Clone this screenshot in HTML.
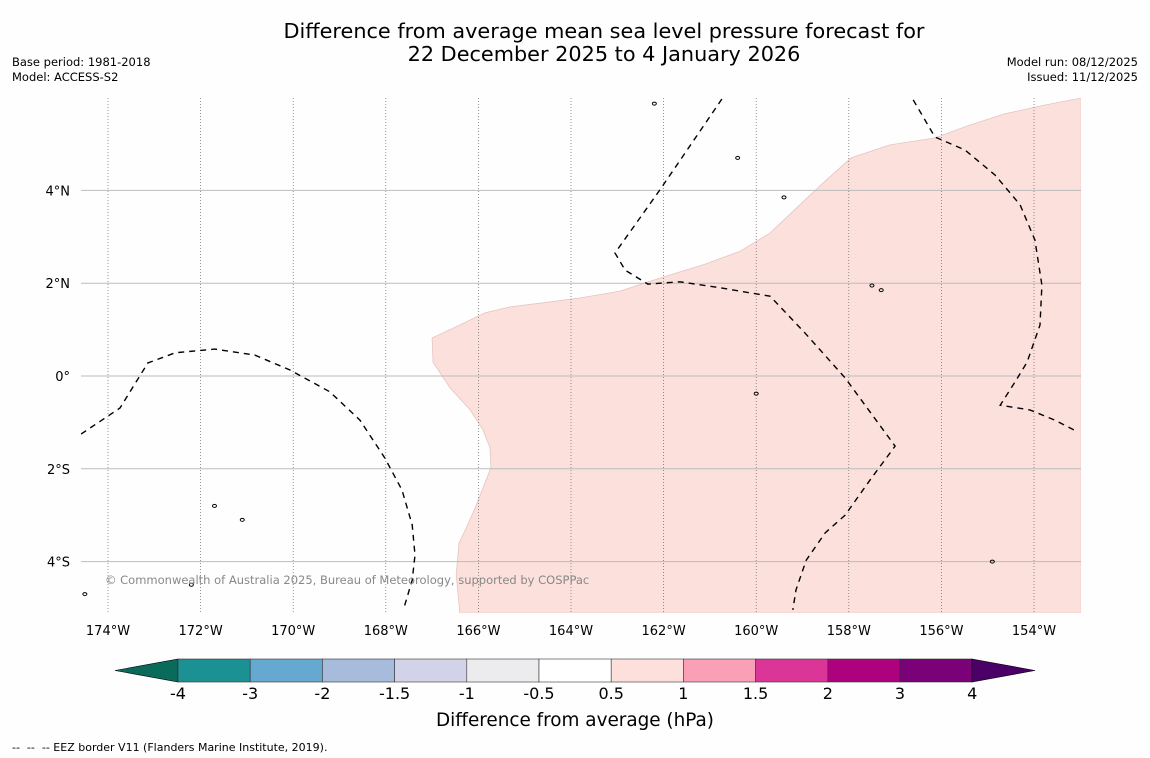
<!DOCTYPE html>
<html><head><meta charset="utf-8"><style>
body{margin:0;background:#fefefe;font-family:"DejaVu Sans","Liberation Sans",sans-serif;}
svg{display:block}
</style></head><body>
<svg width="1150" height="758" xmlns="http://www.w3.org/2000/svg" font-family="DejaVu Sans, Liberation Sans, sans-serif">
<rect width="1150" height="758" fill="#fefefe"/>
<text x="604" y="38" font-size="20.8" text-anchor="middle">Difference from average mean sea level pressure forecast for</text>
<text x="604" y="61" font-size="20.8" text-anchor="middle">22 December 2025 to 4 January 2026</text>
<text x="12" y="66" font-size="11.5">Base period: 1981-2018</text>
<text x="12" y="81" font-size="11.5">Model: ACCESS-S2</text>
<text x="1138" y="66" font-size="11.5" text-anchor="end">Model run: 08/12/2025</text>
<text x="1138" y="81" font-size="11.5" text-anchor="end">Issued: 11/12/2025</text>
<defs><clipPath id="mc"><rect x="81" y="98" width="1000" height="515"/></clipPath></defs>
<g id="map" clip-path="url(#mc)"></g>
<g id="axes"></g>
<text x="105" y="584" font-size="11.5" fill="#888">© Commonwealth of Australia 2025, Bureau of Meteorology, supported by COSPPac</text>
<g id="cbar"></g>
<text x="575" y="726" font-size="18.4" text-anchor="middle">Difference from average (hPa)</text>
<text x="12" y="751" font-size="11" xml:space="preserve">--  --  -- EEZ border V11 (Flanders Marine Institute, 2019).</text>
</svg>
<script>
const lonTicks=[-174,-172,-170,-168,-166,-164,-162,-160,-158,-156,-154];
const latTicks=[4,2,0,-2,-4];
const regionLon=[-152.98,-153.76,-154.63,-155.49,-156.14,-157.11,-157.95,-158.51,-158.95,-159.33,-159.70,-160.35,-161.11,-162.08,-162.94,-163.81,-164.67,-165.32,-165.86,-166.40,-167.00,-166.98,-166.61,-166.18,-165.90,-165.75,-165.73,-165.90,-166.07,-166.25,-166.42,-166.48,-166.40,-152.98];
const regionLat=[5.99,5.84,5.65,5.37,5.13,4.98,4.70,4.20,3.79,3.43,3.08,2.69,2.41,2.11,1.83,1.68,1.57,1.49,1.36,1.10,0.82,0.30,-0.26,-0.73,-1.16,-1.55,-1.98,-2.41,-2.84,-3.25,-3.60,-4.29,-5.11,-5.11];
const eez1Lon=[-174.58,-173.74,-173.14,-172.55,-171.69,-170.83,-170.07,-169.21,-168.56,-168.02,-167.65,-167.43,-167.37,-167.43,-167.61];
const eez1Lat=[-1.25,-0.69,0.28,0.50,0.58,0.45,0.13,-0.34,-0.95,-1.77,-2.46,-3.21,-3.86,-4.40,-5.00];
const eez2Lon=[-160.74,-162.08,-163.05,-162.83,-162.34,-161.65,-160.78,-159.70,-158.95,-158.08,-157.00,-157.54,-158.08,-158.51,-158.92,-159.14,-159.21];
const eez2Lat=[5.97,4.01,2.65,2.28,1.98,2.03,1.90,1.72,0.93,-0.04,-1.51,-2.24,-3.00,-3.38,-3.97,-4.61,-5.04];
const eez3Lon=[-156.61,-156.14,-155.49,-154.84,-154.30,-153.98,-153.83,-153.87,-154.15,-154.41,-154.73,-154.09,-153.55,-153.05];
const eez3Lat=[5.95,5.15,4.87,4.33,3.69,2.93,1.96,1.10,0.30,-0.13,-0.63,-0.73,-0.95,-1.21];
const islandLon=[-162.2,-160.4,-159.4,-157.5,-157.3,-171.7,-171.1,-172.2,-174.5,-160.0,-154.9];
const islandLat=[5.87,4.7,3.85,1.95,1.85,-2.8,-3.1,-4.5,-4.7,-0.38,-4.0];
const cbarBounds=[-4,-3,-2,-1.5,-1,-0.5,0.5,1,1.5,2,3,4];
const cbarColors=["#1b9193","#66a9d0","#a7bcdc","#d2d2e8","#ecebee","#ffffff","#fde0dc","#f99fb6","#dc3598","#ad017e","#7a0177"];
const NS="http://www.w3.org/2000/svg";
const X=lon=>108+(lon+174)*46.3, Y=lat=>376-lat*46.4;
function mk(t,a,p){const e=document.createElementNS(NS,t);for(const k in a)e.setAttribute(k,a[k]);p.appendChild(e);return e;}
const map=document.getElementById('map'),axes=document.getElementById('axes');
const pts=(lo,la)=>lo.map((v,i)=>X(v).toFixed(1)+','+Y(la[i]).toFixed(1)).join(' ');
let reg=mk('polygon',{points:pts(regionLon,regionLat),fill:'#fbe0dc',stroke:'#e6c4c0','stroke-width':0.8},map);


latTicks.forEach(v=>{let l=mk('line',{x1:81,x2:1081,y1:Y(v),y2:Y(v),stroke:'#bbb','stroke-width':1},map);


let t=mk('text',{x:70,y:Y(v)+5,'font-size':13,'text-anchor':'end'},axes);t.textContent=v==0?'0°':Math.abs(v)+'°'+(v>0?'N':'S');

});
lonTicks.forEach(v=>{let l=mk('line',{x1:X(v),x2:X(v),y1:98,y2:613,stroke:'#666','stroke-width':0.7,'stroke-dasharray':'1,2'},map);


let t=mk('text',{x:X(v),y:635,'font-size':13,'text-anchor':'middle'},axes);t.textContent=Math.abs(v)+'°W';

});
[[eez1Lon,eez1Lat],[eez2Lon,eez2Lat],[eez3Lon,eez3Lat]].forEach(([lo,la])=>{let p=mk('polyline',{points:pts(lo,la),fill:'none',stroke:'#000','stroke-width':1.4,'stroke-dasharray':'6,5'},map);

});
islandLon.forEach((v,i)=>{let e=mk('ellipse',{cx:X(v),cy:Y(islandLat[i]),rx:2,ry:1.5,fill:'none',stroke:'#000','stroke-width':1},map);

});
const cb=document.getElementById('cbar');const CX=i=>178+i*72.2;
let tl=mk('polygon',{points:'115,670.5 178,659 178,682',fill:'#0b6b5b',stroke:'#000','stroke-width':0.6},cb);


cbarColors.forEach((c,i)=>{let r=mk('rect',{x:CX(i),y:659,width:72.2,height:23,fill:c,stroke:'#333','stroke-width':0.6},cb);

});
let tr=mk('polygon',{points:'972,659 1035,670.5 972,682',fill:'#4a0066',stroke:'#000','stroke-width':0.6},cb);


cbarBounds.forEach((b,i)=>{let t=mk('text',{x:CX(i),y:699,'font-size':16,'text-anchor':'middle'},cb);t.textContent=String(b);

});
</script>
</body></html>
